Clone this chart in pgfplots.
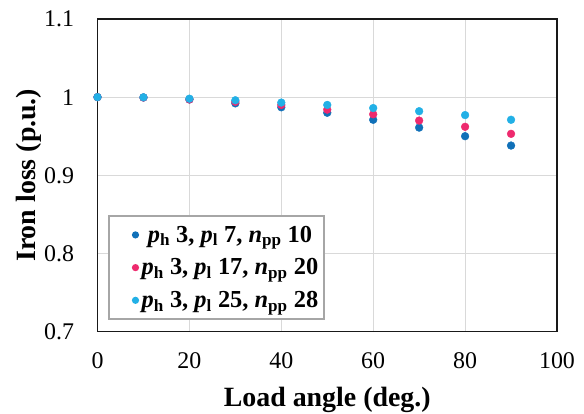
\documentclass[border=0pt]{standalone}
\usepackage{pgfplots}
\pgfplotsset{compat=1.18}
\usepackage{fontspec}
\setmainfont{Liberation Serif}
\definecolor{cA}{HTML}{1070B8}
\definecolor{cB}{HTML}{EE2A6E}
\definecolor{cC}{HTML}{22B0E6}
\definecolor{gridc}{HTML}{D9D9D9}
\definecolor{legc}{HTML}{A6A6A6}
\pgfplotsset{dots/.style={only marks, mark=*, mark size=3.9bp, color=#1, mark options={draw=none, fill=#1},
  legend image code/.code={\path[draw=none, fill=none] (0cm,0cm) -- (0.95cm,0cm); \draw[##1, only marks, mark size=2.8bp] plot coordinates {(0.8cm,0cm)};}}}
\begin{document}
\begin{tikzpicture}
\useasboundingbox (0,0) rectangle (584bp,414bp);
\begin{axis}[
  at={(97.5bp,82.5bp)}, anchor=south west,
  width=459.5bp, height=312.5bp, scale only axis,
  xmin=0, xmax=100, ymin=0.7, ymax=1.1,
  xtick={0,20,40,60,80,100},
  ytick={0.7,0.8,0.9,1,1.1},
  yticklabels={0.7,0.8,0.9,1,1.1},
  major tick length=0pt,
  xmajorgrids, ymajorgrids,
  grid style={gridc, line width=0.9bp},
  axis line style={black!90, line width=1.6bp},
  /pgf/number format/assume math mode=true,
  tick label style={font=\fontsize{24}{24}\selectfont},
  xticklabel style={yshift=-18bp},
  yticklabel style={xshift=-20bp},
  xlabel={\textbf{Load angle (deg.)}},
  ylabel={\textbf{Iron loss (p.u.)}},
  label style={font=\fontsize{28}{28}\selectfont},
  xlabel style={at={(0.5,0)}, anchor=north, yshift=-52bp},
  ylabel style={at={(0,0.5)}, anchor=south, yshift=53bp},
  legend cell align=left,
  legend style={at={(0.023,0.037)}, anchor=south west, draw=legc, line width=1.5bp,
    font=\fontsize{24.5}{24.5}\selectfont\bfseries, row sep=11bp, inner xsep=4bp, inner ysep=8bp},
]
\addplot[dots=cA] coordinates {
(0,1.000) (10,0.9995) (20,0.997) (30,0.992) (40,0.987) (50,0.980) (60,0.971) (70,0.961) (80,0.950) (90,0.938)};
\addlegendentry{\ \textit{p}\textsubscript{h} 3, \textit{p}\textsubscript{l} 7, \textit{n}\textsubscript{pp} 10}
\addplot[dots=cB] coordinates {
(0,1.000) (10,0.9995) (20,0.997) (30,0.994) (40,0.990) (50,0.984) (60,0.978) (70,0.970) (80,0.962) (90,0.953)};
\addlegendentry{\textit{p}\textsubscript{h} 3, \textit{p}\textsubscript{l} 17, \textit{n}\textsubscript{pp} 20}
\addplot[dots=cC] coordinates {
(0,1.000) (10,0.9998) (20,0.998) (30,0.996) (40,0.993) (50,0.990) (60,0.986) (70,0.982) (80,0.977) (90,0.971)};
\addlegendentry{\textit{p}\textsubscript{h} 3, \textit{p}\textsubscript{l} 25, \textit{n}\textsubscript{pp} 28}
\end{axis}
\end{tikzpicture}
\end{document}
